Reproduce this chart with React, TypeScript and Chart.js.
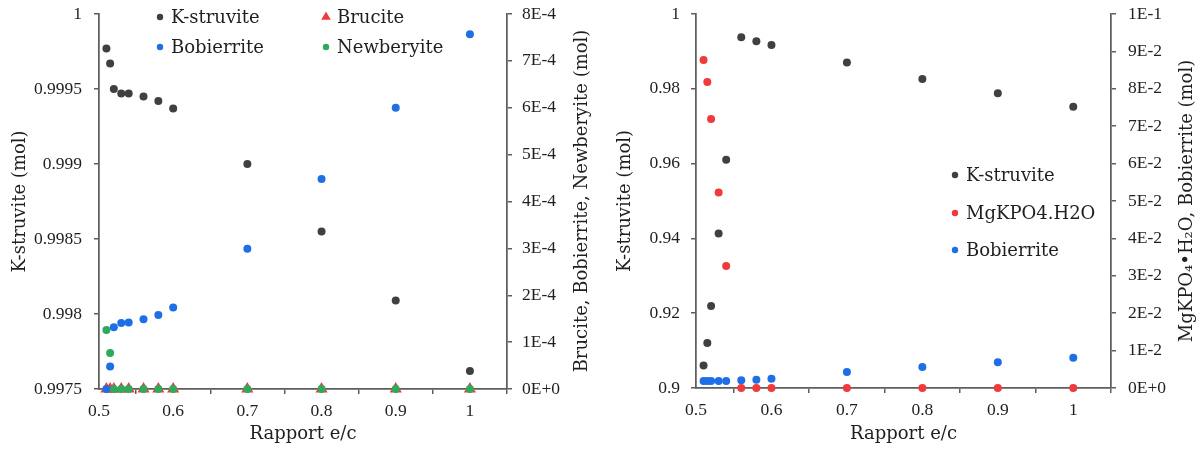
import { useEffect, useRef } from "react";
import { Chart, registerables } from "chart.js";

Chart.register(...registerables);

// ---------- data ----------
const ratios = [0.51, 0.515, 0.52, 0.53, 0.54, 0.56, 0.58, 0.6, 0.7, 0.8, 0.9, 1];

// Left panel
const kStruviteA = [0.99977, 0.99967, 0.9995, 0.99947, 0.99947, 0.99945, 0.99942, 0.99937, 0.999, 0.99855, 0.99809, 0.99762];
const bruciteA = [0, 0, 0, 0, 0, 0, 0, 0, 0, 0, 0, 0];
const bobierriteA = [0, 4.8e-5, 1.32e-4, 1.41e-4, 1.42e-4, 1.49e-4, 1.58e-4, 1.74e-4, 2.99e-4, 4.48e-4, 6.0e-4, 7.57e-4];
const newberyiteA = [1.26e-4, 7.7e-5, 0, 0, 0, 0, 0, 0, 0, 0, 0, 0];

// Right panel
const kStruviteB = [0.906, 0.912, 0.9219, 0.9413, 0.961, 0.9938, 0.9927, 0.9917, 0.987, 0.9826, 0.9788, 0.9752];
const mgkpoB = [0.0877, 0.0818, 0.0719, 0.0523, 0.0326, 0, 0, 0, 0, 0, 0, 0];
const bobierriteB = [0.0019, 0.0019, 0.0019, 0.0019, 0.0019, 0.0021, 0.0022, 0.0025, 0.0043, 0.0056, 0.0069, 0.0081];

const xTitle = "Rapport e/c";
const yTitleLeft = "K-struvite (mol)";
const y2TitleA = "Brucite, Bobierrite, Newberyite (mol)";
const y2TitleB = "MgKPO\u2084\u2022H\u2082O, Bobierrite (mol)";

// ---------- styles ----------
const GRAY = "#404040";
const BLUE = "#1e6fe6";
const RED = "#f03a3c";
const GREEN = "#2eaa5c";
const TEXT = "#1f1f1f";
const AXIS = "#5e5e5e";
const TICK_FONT = { family: "'Liberation Serif', serif", size: 17.5 };
const TITLE_FAMILY = "'DejaVu Serif', serif";
const TITLE_SIZE = 18;

const pts = (ys: number[]) => ratios.map((x, i) => ({ x, y: ys[i] }));

const fmtDec = (v: number) => String(Number(v.toFixed(5)));
const fmtSci = (v: number) => {
  if (Math.abs(v) < 1e-12) return "0E+0";
  const e = Math.floor(Math.log10(v) + 1e-9);
  const m = Math.round(v / Math.pow(10, e));
  return `${m}E${e < 0 ? "-" : "+"}${Math.abs(e)}`;
};

const overlayPlugin = {
  id: "overlay",
  afterDraw(chart: any, _args: any, opts: any) {
    const ctx = chart.ctx;
    ctx.save();
    ctx.font = `${TITLE_SIZE}px ${TITLE_FAMILY}`;
    (opts.legend || []).forEach((item: any) => {
      const ds = chart.data.datasets[item.dataset];
      ctx.fillStyle = ds.backgroundColor;
      ctx.beginPath();
      if (ds.pointStyle === "triangle") {
        const r = 5.5;
        ctx.moveTo(item.x, item.y - r);
        ctx.lineTo(item.x + r * Math.cos(Math.PI / 6), item.y + r / 2);
        ctx.lineTo(item.x - r * Math.cos(Math.PI / 6), item.y + r / 2);
        ctx.closePath();
      } else {
        ctx.arc(item.x, item.y, 3.2, 0, Math.PI * 2);
      }
      ctx.fill();
      ctx.fillStyle = TEXT;
      ctx.textAlign = "left";
      ctx.textBaseline = "middle";
      ctx.fillText(ds.label, item.x + 11, item.y + 1);
    });
    const t = opts.rightTitle;
    if (t) {
      ctx.translate(t.x, t.y);
      ctx.rotate(-Math.PI / 2);
      ctx.fillStyle = TEXT;
      ctx.textAlign = "center";
      ctx.textBaseline = "middle";
      ctx.fillText(t.text, 0, 0);
    }
    ctx.restore();
  },
};

const noPad = (s: any) => {
  s.paddingTop = 0;
  s.paddingBottom = 0;
  s.paddingLeft = 0;
  s.paddingRight = 0;
};

function makeConfig(p: any) {
  const grid = { display: true, drawOnChartArea: false, drawTicks: true, tickLength: 5, color: AXIS, tickColor: AXIS, lineWidth: 1.5 };
  const border = { display: true, color: AXIS, width: 1.75 };
  return {
    type: "scatter",
    data: { datasets: p.datasets },
    options: {
      responsive: false,
      animation: false,
      devicePixelRatio: 1,
      layout: { padding: { left: 0, right: 0, top: p.top, bottom: 0 } },
      plugins: {
        legend: { display: false },
        tooltip: { enabled: false },
        overlay: { legend: p.legend, rightTitle: p.rightTitle },
      },
      scales: {
        x: {
          type: "linear",
          position: "bottom",
          min: 0.5,
          max: 1.05,
          afterFit: (s: any) => { s.height = p.xHeight; noPad(s); },
          afterBuildTicks: (s: any) => {
            s.ticks = [];
            for (let i = 0; i <= 11; i++) s.ticks.push({ value: Number((0.5 + i * 0.05).toFixed(2)) });
          },
          ticks: {
            autoSkip: false,
            maxRotation: 0,
            color: TEXT,
            font: TICK_FONT,
            padding: 7,
            callback: (v: number) => (Math.round(v * 100) % 10 === 0 ? fmtDec(v) : ""),
          },
          grid: {
            ...grid,
            tickColor: (c: any) => (c.tick && Math.round(c.tick.value * 100) % 10 === 0 ? "rgba(0,0,0,0)" : AXIS),
          },
          border,
          title: { display: true, text: xTitle, color: TEXT, font: { family: TITLE_FAMILY, size: TITLE_SIZE }, padding: { top: 0, bottom: 5 } },
        },
        y: {
          type: "linear",
          position: "left",
          min: p.yMin,
          max: p.yMax,
          afterFit: (s: any) => { s.width = p.yWidth; noPad(s); },
          ticks: { stepSize: p.yStep, color: TEXT, font: TICK_FONT, padding: p.yPad, callback: (v: number) => fmtDec(v) },
          grid,
          border,
          title: { display: true, text: yTitleLeft, color: TEXT, font: { family: TITLE_FAMILY, size: TITLE_SIZE }, padding: { top: p.yTitlePad, bottom: 0 } },
        },
        y2: {
          type: "linear",
          position: "right",
          min: 0,
          max: p.y2Max,
          afterFit: (s: any) => { s.width = p.y2Width; noPad(s); },
          ticks: { stepSize: p.y2Step, color: TEXT, font: TICK_FONT, padding: p.y2Pad, callback: (v: number) => fmtSci(v) },
          grid,
          border,
        },
      },
    },
    plugins: [overlayPlugin],
  };
}

function ds(label: string, ys: number[], color: string, axis: string, order: number, style = "circle") {
  return {
    label,
    data: pts(ys),
    yAxisID: axis,
    backgroundColor: color,
    borderColor: color,
    pointStyle: style,
    pointRadius: style === "triangle" ? 7 : 4,
    pointBorderWidth: 0,
    showLine: false,
    clip: false,
    order,
  };
}

function ChartCanvas({ config, left, width }: { config: any; left: number; width: number }) {
  const ref = useRef<HTMLCanvasElement>(null);
  useEffect(() => {
    const chart = new Chart(ref.current as HTMLCanvasElement, config);
    return () => chart.destroy();
  }, [config]);
  return <canvas ref={ref} width={width} height={450} style={{ position: "absolute", left, top: 0, width, height: 450 }} />;
}

const configA = makeConfig({
  datasets: [
    ds("K-struvite", kStruviteA, GRAY, "y", 4),
    ds("Brucite", bruciteA, RED, "y2", 3, "triangle"),
    ds("Bobierrite", bobierriteA, BLUE, "y2", 2),
    ds("Newberyite", newberyiteA, GREEN, "y2", 1),
  ],
  legend: [
    { dataset: 0, x: 160, y: 17 },
    { dataset: 1, x: 326, y: 17 },
    { dataset: 2, x: 160, y: 47 },
    { dataset: 3, x: 326, y: 47 },
  ],
  rightTitle: { text: y2TitleA, x: 582, y: 201 },
  top: 14,
  yMin: 0.9975,
  yMax: 1,
  yStep: 0.0005,
  y2Max: 8e-4,
  y2Step: 1e-4,
  yWidth: 99,
  y2Width: 93,
  xHeight: 61,
  yPad: 12,
  y2Pad: 10,
  yTitlePad: 10,
});

const configB = makeConfig({
  datasets: [
    ds("K-struvite", kStruviteB, GRAY, "y", 3),
    ds("MgKPO4.H2O", mgkpoB, RED, "y2", 2),
    ds("Bobierrite", bobierriteB, BLUE, "y2", 1),
  ],
  legend: [
    { dataset: 0, x: 355, y: 175 },
    { dataset: 1, x: 355, y: 213 },
    { dataset: 2, x: 355, y: 250 },
  ],
  rightTitle: { text: y2TitleB, x: 587, y: 201 },
  top: 14,
  yMin: 0.9,
  yMax: 1,
  yStep: 0.02,
  y2Max: 0.1,
  y2Step: 0.01,
  yWidth: 96,
  y2Width: 90,
  xHeight: 62,
  yPad: 11,
  y2Pad: 12,
  yTitlePad: 15,
});

export default function App() {
  return (
    <div style={{ position: "absolute", left: 0, top: 0, width: 1201, height: 450, background: "#fff" }}>
      <ChartCanvas config={configA} left={0} width={600} />
      <ChartCanvas config={configB} left={600} width={601} />
    </div>
  );
}
